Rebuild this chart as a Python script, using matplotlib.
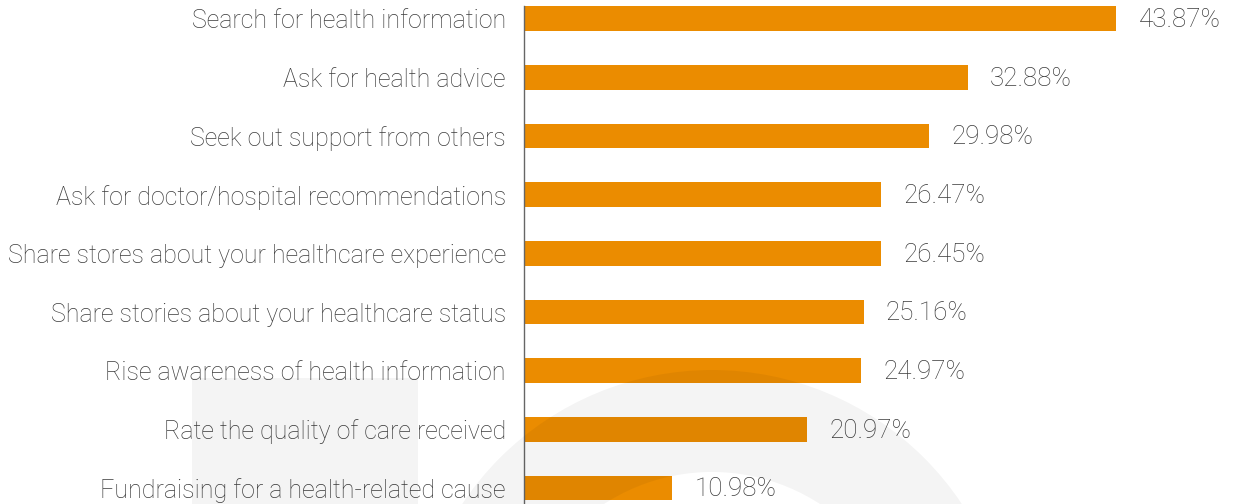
import matplotlib
matplotlib.use("Agg")
import matplotlib.pyplot as plt
from matplotlib.patches import Rectangle, Wedge
from matplotlib.transforms import Affine2D

categories = [
    "Search for health information",
    "Ask for health advice",
    "Seek out support from others",
    "Ask for doctor/hospital recommendations",
    "Share stores about your healthcare experience",
    "Share stories about your healthcare status",
    "Rise awareness of health information",
    "Rate the quality of care received",
    "Fundraising for a health-related cause",
]
values = [43.87, 32.88, 29.98, 26.47, 26.45, 25.16, 24.97, 20.97, 10.98]
value_labels = ["43.87%", "32.88%", "29.98%", "26.47%", "26.45%",
                "25.16%", "24.97%", "20.97%", "10.98%"]

W, H = 1235, 504
bar_color = "#EB8C00"
text_color = "#3c3c3c"

plt.rcParams["font.family"] = ["Roboto", "DejaVu Sans"]

fig = plt.figure(figsize=(W / 100, H / 100), dpi=100)
fig.patch.set_facecolor("white")

# axes placed in pixel terms: left edge at x=524, spanning full height
ax = fig.add_axes([524 / W, 0, 1 - 524 / W, 1])
ax.set_facecolor("none")

y = list(range(len(categories)))
ax.barh(y, values, height=0.42, color=bar_color, zorder=2)

ax.set_xlim(0, (W - 524) / 13.5)
ax.set_ylim(len(categories) - 1 + 0.27, -0.32)

for yi, v, lab in zip(y, values, value_labels):
    ax.text(v + 1.65, yi + 0.02, lab, va="center", ha="left", fontsize=18.7,
            fontweight="light", color=text_color)

ax.set_yticks(y)
ax.set_yticklabels(categories, fontsize=18, fontweight="light", color=text_color)
ax.tick_params(axis="y", length=0, pad=13)
ax.set_xticks([])

for s in ["top", "right", "bottom"]:
    ax.spines[s].set_visible(False)
ax.spines["left"].set_color("#666666")
ax.spines["left"].set_linewidth(1.0)
ax.spines["left"].set_bounds(len(categories) - 1 + 0.27, -0.21)

# faint background watermark (pixel coords, y up)
t = Affine2D().scale(1 / W, 1 / H) + fig.transFigure
wm = dict(facecolor="black", alpha=0.043, edgecolor="none", zorder=10)
fig.patches.append(Rectangle((192, 0), 226, 126, transform=t, **wm))
fig.patches.append(Wedge((712, -166), 300, 0, 180, width=102, transform=t, **wm))

fig.savefig("out.png", dpi=100)
